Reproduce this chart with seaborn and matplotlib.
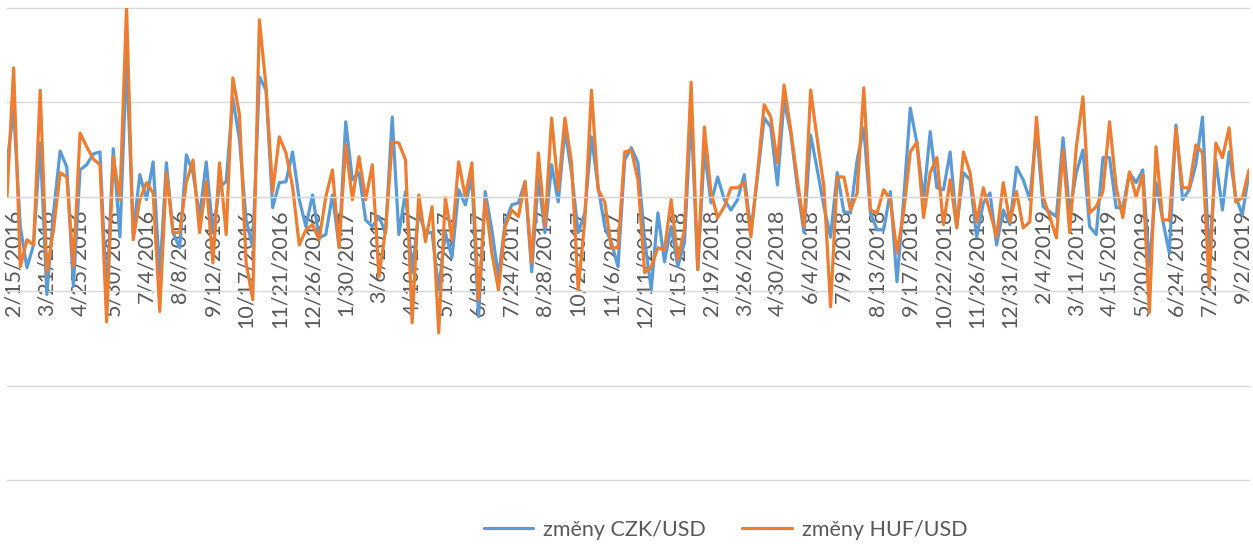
import numpy as np
import pandas as pd
import matplotlib
matplotlib.use('Agg')
import matplotlib.pyplot as plt
from matplotlib.lines import Line2D
import seaborn as sns

# weekly changes (percent), first week 2016-02-08
czk = [0.72, 1.84, -0.63, -1.50, -1.02, 1.14, -2.07, -0.34, 0.97, 0.63,
       -1.90, 0.57, 0.68, 0.91, 0.95, -2.18, 1.02, -0.85, 2.94, -0.76,
       0.47, -0.06, 0.74, -1.69, 0.72, -0.76, -1.08, 0.89, 0.51, -0.42,
       0.74, -0.76, 0.21, 0.32, 2.09, 1.21, -0.49, -1.06, 2.54, 2.26,
       -0.23, 0.30, 0.32, 0.95, -0.06, -0.63, 0.04, -0.87, -0.80, 0.04,
       -1.06, 1.59, 0.36, 0.51, -0.49, -0.63, -0.42, -0.76, 1.69, -0.80,
       0.11, -1.61, -0.34, -0.76, -0.76, -1.97, -0.76, -1.29, 0.15, -0.17,
       0.42, -2.54, 0.11, -0.70, -1.69, -0.55, -0.17, -0.13, 0.32, -1.59,
       0.40, -0.76, 0.68, -0.11, 1.42, 0.51, -0.76, -0.34, 1.27, 0.21,
       -0.63, -0.97, -1.48, 0.78, 1.04, 0.72, -0.91, -1.97, -0.34, -1.38,
       -0.63, -1.48, -0.97, 1.78, -1.54, 0.99, -0.13, 0.42, -0.06, -0.28,
       -0.06, 0.47, -0.76, 0.42, 1.67, 1.48, 0.25, 2.05, 1.35, 0.21,
       -0.76, 1.31, 0.57, -0.21, -0.85, 0.51, -0.32, -0.34, 0.78, 1.46,
       -0.34, -0.70, -0.70, 0.11, -1.80, -0.06, 1.88, 1.14, -0.06, 1.38,
       0.19, 0.15, 0.95, -0.63, 0.51, 0.36, -0.85, -0.13, 0.08, -1.02,
       -0.28, -0.59, 0.63, 0.36, -0.06, 1.42, -0.21, -0.32, -0.42, 1.25,
       -0.34, 0.51, 0.99, -0.63, -0.80, 0.83, 0.83, -0.23, -0.23, 0.51,
       0.30, 0.57, -1.48, 0.30, -0.49, -1.19, 1.52, -0.06, 0.15, 0.68,
       1.69, -1.33, 0.78, -0.28, 0.95, 0.00, -0.38, 0.51]

huf = [0.00, 2.73, -1.48, -0.91, -1.02, 2.26, -1.61, -0.70, 0.51, 0.42,
       -1.48, 1.35, 1.06, 0.80, 0.68, -2.65, 0.85, -0.06, 4.02, -0.91,
       -0.06, 0.30, 0.08, -2.43, 0.51, -0.76, -0.76, 0.30, 0.78, -0.76,
       0.32, -1.40, 0.72, -0.80, 2.52, 1.74, -1.40, -2.18, 3.75, 2.33,
       0.11, 1.27, 0.93, 0.21, -1.02, -0.70, -0.59, -0.91, 0.00, 0.57,
       -1.08, 1.10, -0.06, 0.85, -0.06, 0.68, -1.69, -0.70, 1.16, 1.14,
       0.78, -2.67, 0.04, -0.95, -0.21, -2.88, -0.02, -0.91, 0.74, 0.00,
       0.72, -2.18, -0.06, -1.19, -1.97, -0.63, -0.28, -0.42, 0.32, -1.40,
       0.93, -0.63, 1.67, 0.15, 1.67, 0.72, -1.97, -0.49, 2.26, 0.15,
       -0.11, -1.08, -1.08, 0.95, 0.99, 0.36, -1.61, -1.48, -1.08, -1.12,
       -0.06, -1.33, -0.70, 2.43, -1.54, 1.48, 0.08, -0.44, -0.21, 0.19,
       0.19, 0.30, -0.85, 0.51, 1.95, 1.69, 0.72, 2.37, 1.42, 0.36,
       -0.63, 2.26, 1.21, 0.21, -2.33, 0.42, 0.42, -0.28, 0.08, 2.31,
       -0.28, -0.34, 0.15, -0.06, -1.19, -0.34, 0.95, 1.16, -0.44, 0.51,
       0.83, -0.59, 0.36, -0.66, 0.95, 0.51, -0.53, 0.19, -0.32, -0.85,
       0.30, -0.53, 0.11, -0.66, -0.53, 1.69, 0.00, -0.42, -0.87, 0.99,
       -0.76, 1.06, 2.12, -0.34, -0.21, 0.11, 1.59, 0.21, -0.44, 0.53,
       0.00, 0.47, -2.45, 1.06, -0.49, -0.49, 1.46, 0.19, 0.19, 1.10,
       0.93, -1.90, 1.14, 0.83, 1.46, -0.11, -0.02, 0.57]

tick_labels = ['2/15/2016', '3/21/2016', '4/25/2016', '5/30/2016', '7/4/2016',
               '8/8/2016', '9/12/2016', '10/17/2016', '11/21/2016', '12/26/2016',
               '1/30/2017', '3/6/2017', '4/10/2017', '5/15/2017', '6/19/2017',
               '7/24/2017', '8/28/2017', '10/2/2017', '11/6/2017', '12/11/2017',
               '1/15/2018', '2/19/2018', '3/26/2018', '4/30/2018', '6/4/2018',
               '7/9/2018', '8/13/2018', '9/17/2018', '10/22/2018', '11/26/2018',
               '12/31/2018', '2/4/2019', '3/11/2019', '4/15/2019', '5/20/2019',
               '6/24/2019', '7/29/2019', '9/2/2019']

series_names = ['změny CZK/USD', 'změny HUF/USD']
colors = ['#5B9BD5', '#ED7D31']

weeks = pd.date_range('2016-02-08', periods=len(czk), freq='7D')
df = pd.DataFrame({
    'week': list(weeks) + list(weeks),
    'value': czk + huf,
    'series': [series_names[0]] * len(czk) + [series_names[1]] * len(huf),
})

sns.set_style('white')
plt.rcParams['font.family'] = ['Lato', 'DejaVu Sans']

W, H = 1253, 544
fig = plt.figure(figsize=(W / 100, H / 100), dpi=100)
ax = fig.add_axes([7 / W, 1 - 480 / H, 1242 / W, 472 / H])

sns.lineplot(data=df, x='week', y='value', hue='series', hue_order=series_names,
             palette=colors, linewidth=2.3, estimator=None, legend=False, ax=ax)

ax.set_ylim(-6, 4)
ax.set_yticks([-6, -4, -2, 0, 2, 4])
ax.set_yticklabels([])
ax.tick_params(axis='y', length=0)
ax.yaxis.grid(True, color='#D9D9D9', linewidth=1.0)
for gl in ax.get_ygridlines():
    gl.set_clip_on(False)
ax.xaxis.grid(False)
ax.set_xlim(weeks[0], weeks[-1])
ax.set_xlabel('')
ax.set_ylabel('')

for s in ['top', 'left', 'right']:
    ax.spines[s].set_visible(False)
ax.spines['bottom'].set_position(('data', 0))
ax.spines['bottom'].set_color('#D9D9D9')
ax.spines['bottom'].set_linewidth(1.0)

tick_pos = pd.to_datetime(tick_labels, format='%m/%d/%Y')
ax.set_xticks(tick_pos)
ax.set_xticklabels(tick_labels, rotation=90, fontsize=15.5, color='#595959')
ax.tick_params(axis='x', length=0, pad=9)

handles = [Line2D([0], [0], color=c, lw=2.3) for c in colors]
fig.legend(handles, series_names, loc='center', bbox_to_anchor=(0.579, 0.026),
           ncol=2, frameon=False, handlelength=2.3, handletextpad=0.45,
           columnspacing=1.7, fontsize=15.5, labelcolor='#595959')

fig.savefig('out.png', dpi=100)
